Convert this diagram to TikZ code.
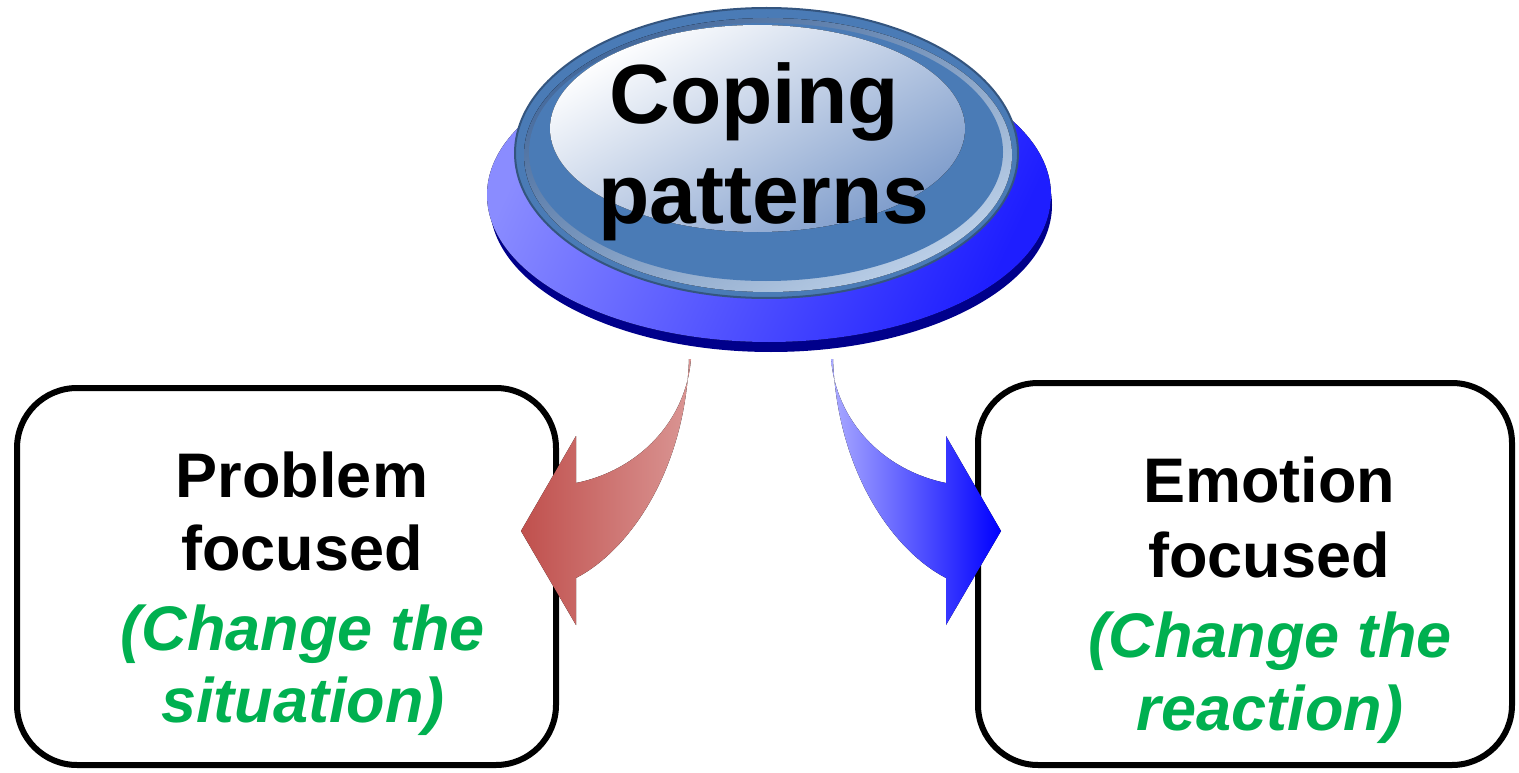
\documentclass[tikz,border=0pt]{standalone}
\usepackage{fontspec}
\setmainfont{Liberation Sans}
\definecolor{redA}{HTML}{C0504D}
\definecolor{redB}{HTML}{DA9694}
\definecolor{blueA}{HTML}{AAAAFF}
\definecolor{blueB}{HTML}{0000FF}
\definecolor{txtgreen}{HTML}{00B050}
\definecolor{baseL}{HTML}{8A8CFF}
\definecolor{baseR}{HTML}{1E1EFF}
\definecolor{baseD}{HTML}{00008B}
\definecolor{steel}{HTML}{4A7BB6}
\definecolor{steelD}{HTML}{34557F}
\definecolor{ringL}{HTML}{BCD0E8}
\definecolor{ringD}{HTML}{42679A}
\definecolor{glossB}{HTML}{7E9CCB}
\begin{document}
\begin{tikzpicture}[x=1pt,y=-1pt,
  cbox/.style={draw=black, line width=6pt, rounded corners=60pt, fill=white, inner sep=0pt},
  bl/.style={font=\fontsize{63}{74}\selectfont\bfseries, anchor=base, inner sep=0pt},
  gl/.style={font=\fontsize{63}{74}\selectfont\bfseries\itshape, text=txtgreen, anchor=base, inner sep=0pt},
  tl/.style={font=\fontsize{84}{97}\selectfont\bfseries, anchor=base, inner sep=0pt}]
\useasboundingbox (0,0) rectangle (1519,773);

% boxes
\node[cbox, minimum width=539pt, minimum height=377pt] (lbox) at (286.5,576.5) {};
\node[cbox, minimum width=534pt, minimum height=382pt] (rbox) at (1245,574) {};

% button base
\fill[baseD] (771,205) ellipse [x radius=281pt, y radius=147pt];
\fill[left color=baseL, right color=baseR, shading angle=65] (769,195) ellipse [x radius=282pt, y radius=147pt];
% button top
\filldraw[fill=steel, draw=steelD, line width=2pt] (766.5,153) ellipse [x radius=251.5pt, y radius=145pt];
\fill[top color=ringD, bottom color=ringL, shading angle=30] (768,155) ellipse [x radius=244pt, y radius=137pt];
\fill[steel] (766,152) ellipse [x radius=237pt, y radius=129pt];
\fill[top color=white, bottom color=glossB, shading angle=30] (757.5,128.5) ellipse [x radius=207.5pt, y radius=103.5pt];

\node[tl] (coping) at (754,124) {Coping};
\node[tl] (patterns) at (764,223) {patterns};

% arrows
\fill[left color=redA, right color=redB]
  (691,359) .. controls (686,420) and (640,470) .. (576,483)
  -- (576,436) -- (521,531) -- (576,625) -- (576,578)
  .. controls (630,550) and (685,470) .. (689,359) -- cycle;
\fill[left color=blueA, right color=blueB]
  (831,359) .. controls (836,420) and (882,470) .. (946,483)
  -- (946,436) -- (1001,531) -- (946,625) -- (946,578)
  .. controls (892,550) and (837,470) .. (833,359) -- cycle;

% left texts
\node[bl] (l1) at (302,497) {Problem};
\node[bl] (l2) at (302,570) {focused};
\node[gl] (l3) at (303,650) {(Change the};
\node[gl] (l4) at (303,722) {situation)};
% right texts
\node[bl] (r1) at (1269,502) {Emotion};
\node[bl] (r2) at (1269,577) {focused};
\node[gl] (r3) at (1270,657) {(Change the};
\node[gl] (r4) at (1270,730) {reaction)};
\end{tikzpicture}
\end{document}
